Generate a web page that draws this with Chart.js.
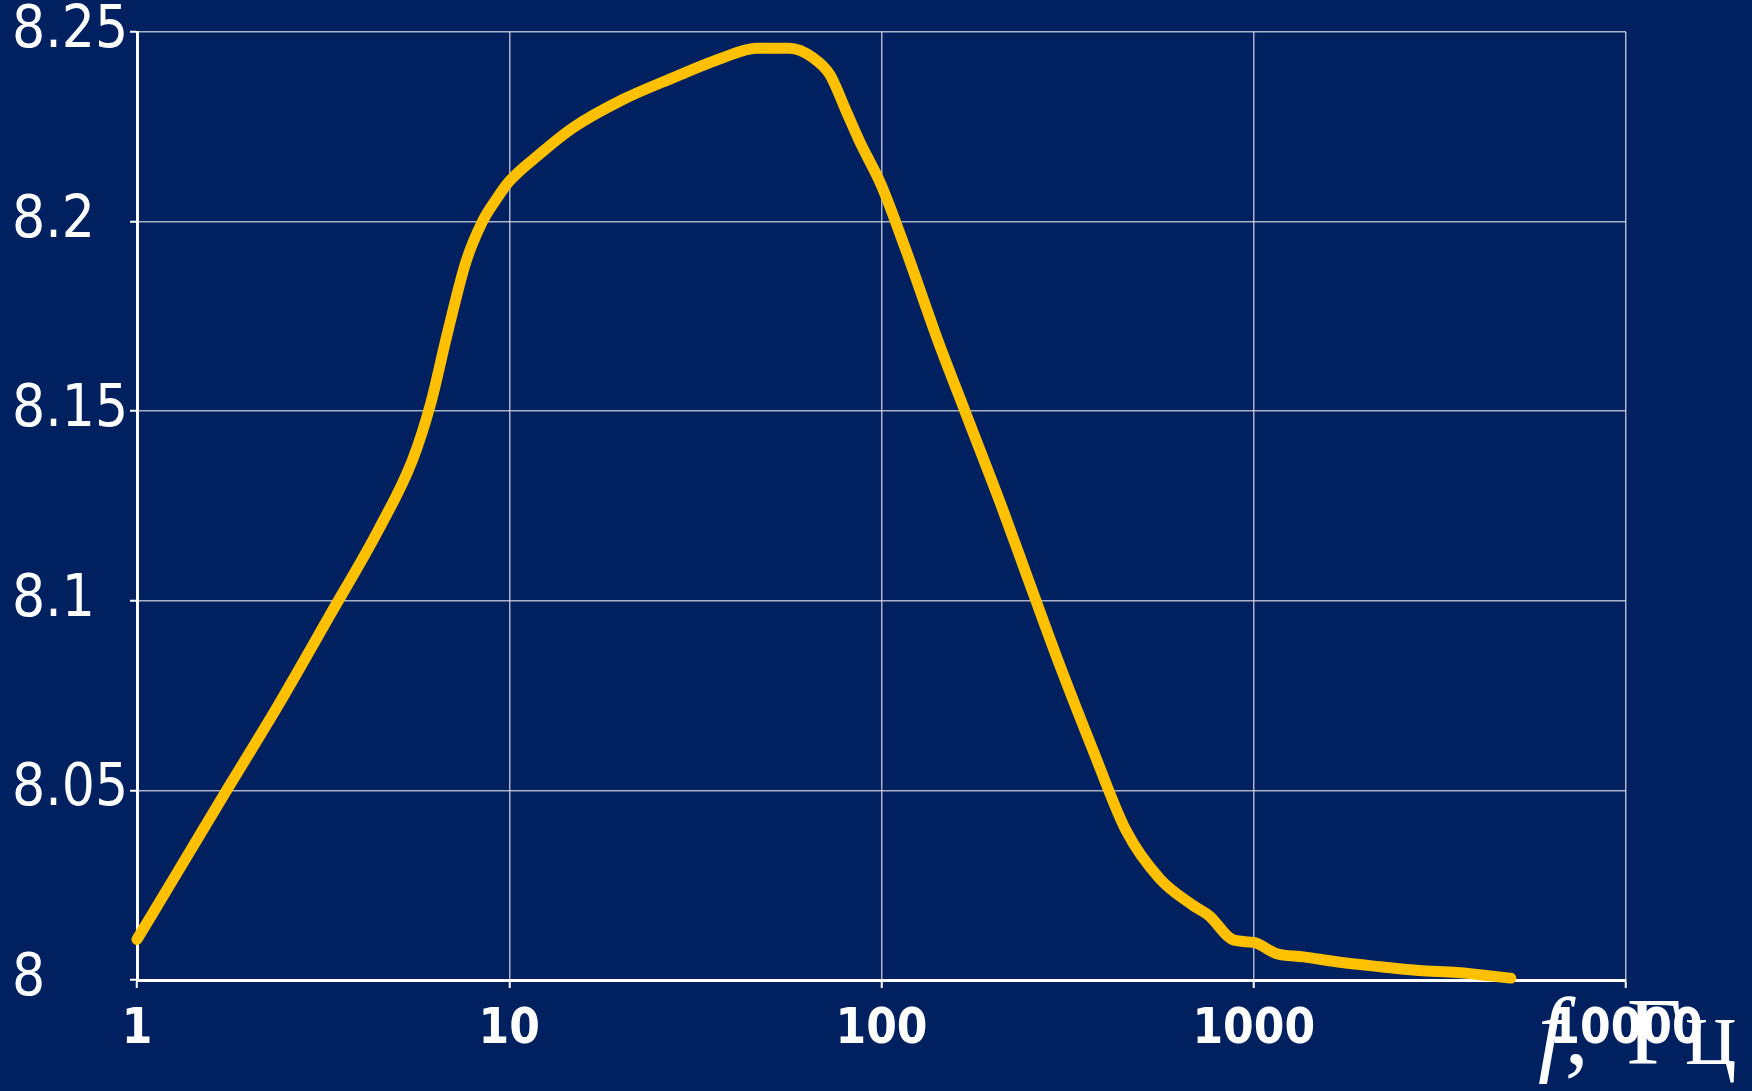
<!DOCTYPE html>
<html>
<head>
<meta charset="utf-8">
<script src="https://cdn.jsdelivr.net/npm/chart.js@4.4.1/dist/chart.umd.min.js"></script>
<style>
    html, body { margin: 0; padding: 0; background: #002060; overflow: hidden; }
    #wrap { position: relative; width: 1752px; height: 1091px; }
    #unit {
        position: absolute; left: 1538px; top: 984px;
        font-family: 'Liberation Serif', 'Times New Roman', serif;
        font-size: 96px; line-height: 96px; color: #ffffff; white-space: nowrap;
        word-spacing: 14px;
    }
    #unit i { font-style: italic; }
    #unit span { letter-spacing: 3px; }
</style>
</head>
<body>
<div id="wrap">
    <canvas id="chartOne" width="1752" height="1091"></canvas>
    <div id="unit"><i>f</i>, <span>Гц</span></div>
</div>
<script>
// frequency, Hz (log axis)
const freqs = [1, 1.295, 1.76, 2.4, 3.28, 4.47, 5.49, 6.15, 6.8, 7.65, 8.47, 9.2, 10, 12, 14.8, 20.2, 27.5, 37.5, 46.1, 56.6, 65.5, 72.6, 80.5, 87.5, 100, 115.8, 142, 167.6, 210, 245, 301, 370, 454, 558, 686, 760, 879, 1000, 1148, 1361, 1727, 2190, 2776, 3520, 4906];
const values = [8.0107, 8.029, 8.0508, 8.0726, 8.0958, 8.119, 8.137, 8.152, 8.170, 8.1894, 8.2, 8.2057, 8.2106, 8.2176, 8.2247, 8.2322, 8.2379, 8.2432, 8.2457, 8.2457, 8.2432, 8.2388, 8.229, 8.221, 8.2095, 8.193, 8.1684, 8.15, 8.125, 8.107, 8.0831, 8.0606, 8.0394, 8.0268, 8.0197, 8.0169, 8.0106, 8.0099, 8.007, 8.0061, 8.0046, 8.0035, 8.0025, 8.002, 8.0005];

const xTicks = [1, 10, 100, 1000, 10000];
const yTicks = [8, 8.05, 8.1, 8.15, 8.2, 8.25];

const points = freqs.map((f, i) => ({ x: f, y: values[i] }));

const gridColor = 'rgba(215, 215, 225, 0.8)';

const chartOne = new Chart(document.getElementById('chartOne'), {
    type: 'line',
    data: {
        datasets: [{
            data: points,
            borderColor: '#ffc000',
            borderWidth: 11,
            borderCapStyle: 'round',
            borderJoinStyle: 'round',
            pointRadius: 0,
            cubicInterpolationMode: 'monotone',
            fill: false,
            clip: false
        }]
    },
    options: {
        responsive: false,
        animation: false,
        layout: { padding: { left: 12, top: 30, right: 126, bottom: 0 } },
        plugins: { legend: { display: false }, tooltip: { enabled: false } },
        scales: {
            x: {
                type: 'logarithmic',
                min: 1,
                max: 10000,
                afterBuildTicks: (scale) => { scale.ticks = xTicks.map(v => ({ value: v })); },
                afterFit: (scale) => { scale.height = 111; },
                grid: { color: gridColor, lineWidth: 1.5, tickLength: 8, tickColor: '#ffffff', tickWidth: 2 },
                border: { color: '#ffffff', width: 3 },
                ticks: {
                    color: '#ffffff',
                    padding: 18,
                    maxRotation: 0,
                    autoSkip: false,
                    font: { family: "'DejaVu Sans Condensed', 'DejaVu Sans'", size: 49, weight: 'bold', lineHeight: 1 },
                    callback: (v) => String(v)
                }
            },
            y: {
                min: 8,
                max: 8.25,
                afterBuildTicks: (scale) => { scale.ticks = yTicks.map(v => ({ value: v })); },
                afterFit: (scale) => { scale.width = 125; },
                grid: { color: gridColor, lineWidth: 1.5, tickLength: 7, tickColor: '#ffffff', tickWidth: 2 },
                border: { color: '#ffffff', width: 3 },
                ticks: {
                    color: '#ffffff',
                    crossAlign: 'far',
                    font: { family: "'DejaVu Sans Condensed', 'DejaVu Sans'", size: 58, lineHeight: 1 },
                    callback: (v) => String(Math.round(v * 100) / 100)
                }
            }
        }
    }
});
</script>
</body>
</html>
